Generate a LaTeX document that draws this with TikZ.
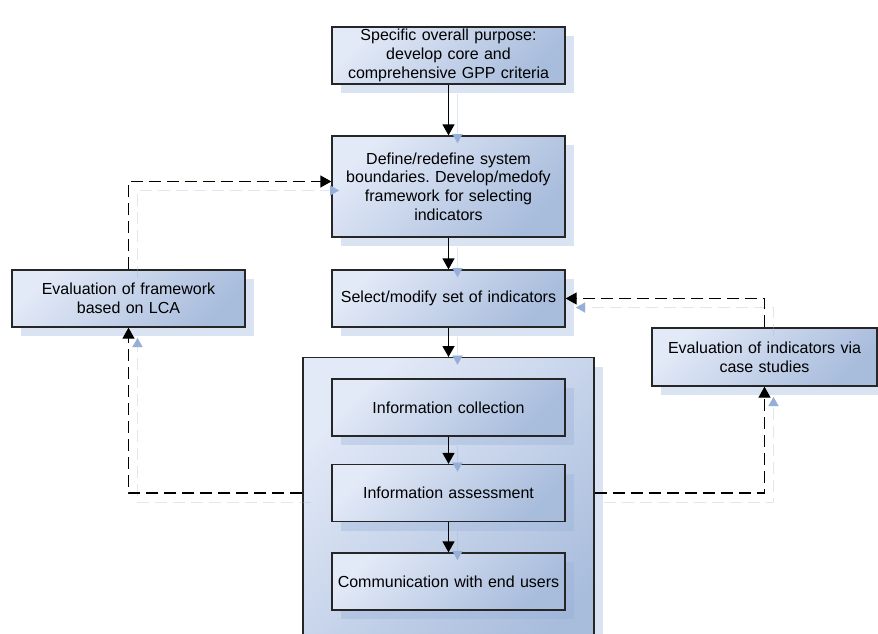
\documentclass[tikz,border=0pt]{standalone}
\usepackage{fontspec}
\setmainfont{Liberation Sans}
\usetikzlibrary{positioning,shadows,arrows.meta}
\frenchspacing

\definecolor{boxlight}{RGB}{226,233,247}
\definecolor{boxdark}{RGB}{168,188,220}
\definecolor{shadowc}{RGB}{150,175,215}

\tikzset{
  stagebox/.style={draw=black!85, line width=1.3pt, top color=boxlight, bottom color=boxdark, shading angle=45,
    general shadow={fill=shadowc, fill opacity=0.35, shadow xshift=9pt, shadow yshift=-9pt}},
  box/.style={stagebox, minimum width=233pt, minimum height=57pt, text width=225pt, align=center, inner sep=0pt,
    font=\fontsize{16}{18.8}\selectfont},
  ghost/.style={preaction={draw=shadowc, draw opacity=0.3, #1, transform canvas={shift={(9pt,-9pt)}}}},
  ghost/.default={solid},
  flow/.style={-{Triangle[length=11pt,width=12pt]}, line width=1.3pt, ghost},
  back/.style={-{Triangle[length=11pt,width=12pt]}, line width=1.3pt, dash pattern=on 12pt off 6pt,
    ghost={dash pattern=on 12pt off 6pt}}
}

\begin{document}
\begin{tikzpicture}[x=1pt,y=-1pt,on grid]
\useasboundingbox (0,0) rectangle (878,634);
\clip (0,0) rectangle (878,634);

\node[box] (purpose) at (448.5,55.5) {Specific overall purpose:\\ develop core and\\ comprehensive GPP criteria};
\node[box, minimum height=101pt] (bounds) [below=131pt of purpose] {Define/redefine system\\ boundaries. Develop/medofy\\ framework for selecting\\ indicators};
\node[box] (select) [below=112pt of bounds] {Select/modify set of indicators};
\node[box] (lca) [left=320pt of select] {Evaluation of framework\\ based on LCA};
\node[box, minimum width=225pt, minimum height=58pt] (cases) at (764.5,357) {Evaluation of indicators via\\ case studies};

\node[stagebox, minimum width=291pt, minimum height=320pt, anchor=north] (stage) at (448.5,357) {};
\node[box] (collect) at (448.5,407.5) {Information collection};
\node[box] (assess) [below=85.5pt of collect] {Information assessment};
\node[box] (inform) [below=88.5pt of assess] {Communication with end users};

% main flow
\draw[flow] (purpose) -- (bounds);
\draw[flow] (bounds) -- (select);
\draw[flow] (select) -- (stage.north);
\draw[flow] (collect) -- (assess);
\draw[flow] (assess) -- (inform);

% feedback loops
\draw[back] (stage.west |- assess) -| (lca);
\draw[back] (lca) |- ([yshift=5pt]bounds.west);
\draw[back] (stage.east |- assess) -| (cases);
\draw[back] (cases) |- (select);
\end{tikzpicture}
\end{document}
